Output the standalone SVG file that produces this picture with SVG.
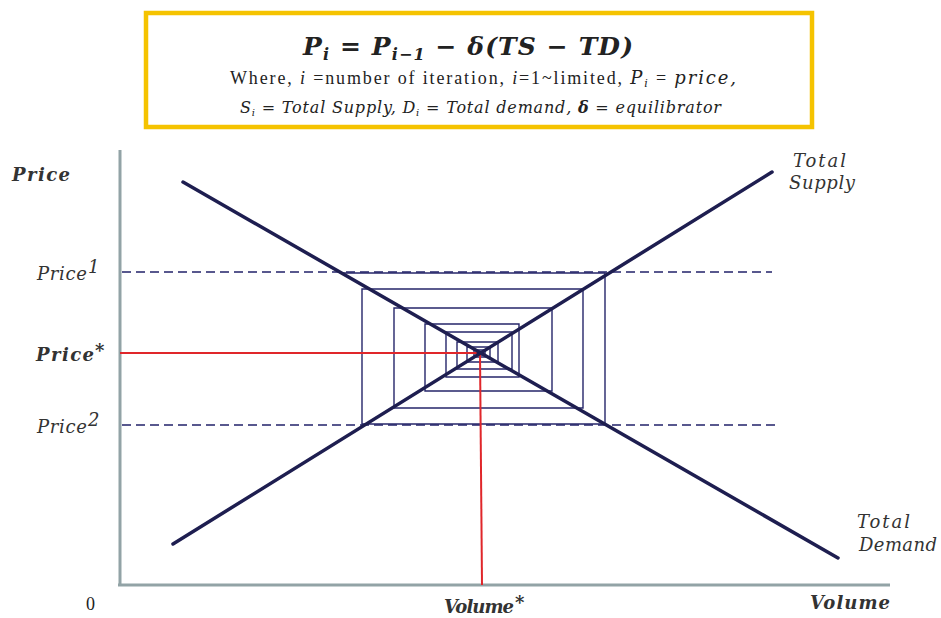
<svg xmlns="http://www.w3.org/2000/svg" width="941" height="618" viewBox="0 0 941 618">
<style>
.math{font-family:"DejaVu Serif","Liberation Serif",serif;font-style:italic;fill:#222}
.b{font-weight:bold}
.rom{font-family:"Liberation Serif","DejaVu Serif",serif;fill:#222}
.axis{stroke:#92a3a6;stroke-width:3;fill:none}
.curve{stroke:#1e1e50;stroke-width:3.5;fill:none;stroke-linecap:round}
.dash{stroke:#22226a;stroke-width:1.4;stroke-dasharray:9 5;fill:none}
.web{stroke:#26266a;stroke-width:1.4;fill:none}
.red{stroke:#e0262a;stroke-width:2;fill:none}
.lbl{font-family:"DejaVu Serif","Liberation Serif",serif;font-style:italic;fill:#333;font-size:18px}
</style>
<rect width="941" height="618" fill="#fff"/>
<g id="formula-box">
<rect x="146" y="13" width="666" height="114" fill="#fff" stroke="#f5c300" stroke-width="4.5"/>
<text class="math b" x="468" y="55" font-size="25" text-anchor="middle" textLength="330">P<tspan font-size="16" dy="5">i</tspan><tspan dy="-5"> = P</tspan><tspan font-size="16" dy="5">i−1</tspan><tspan dy="-5"> − δ(TS − TD)</tspan></text>
<text class="rom" x="230" y="84" font-size="18" textLength="506">Where, <tspan font-style="italic">i</tspan> =number of iteration,  <tspan font-style="italic">i</tspan>=1~limited,  <tspan class="math">P</tspan><tspan class="math" font-size="11" dy="3">i</tspan><tspan dy="-3"> = </tspan><tspan class="math">price,</tspan></text>
<text class="math" x="240" y="113" font-size="16" textLength="481">S<tspan font-size="10" dy="3">i</tspan><tspan dy="-3"> = Total Supply, D</tspan><tspan font-size="10" dy="3">i</tspan><tspan dy="-3"> = Total demand, </tspan><tspan class="b">δ</tspan> = equilibrator</text>
</g>
<g id="axes">
<line class="axis" x1="120" y1="150" x2="120" y2="586"/>
<line class="axis" x1="118" y1="585" x2="890" y2="585"/>
</g>
<g id="price-levels">
<line class="dash" x1="122" y1="272" x2="772" y2="272"/>
<line class="dash" x1="122" y1="425" x2="775" y2="425"/>
</g>
<g id="cobweb">
<path class="web" d="M340,273 H605 V424 H362 V289 H583 V408 H394 V308 H552 V391 H425 V324 H519 V377 H446 V332 H512 V369 H457 V342 H498 V362 H467 V347 H490 V357 H474 V350 H485 V355 H478"/>
</g>
<g id="equilibrium">
<line class="red" x1="120" y1="353" x2="481" y2="353"/>
<line class="red" x1="480" y1="353" x2="482" y2="585"/>
</g>
<g id="total-demand">
<line class="curve" x1="183" y1="182" x2="838" y2="558"/>
</g>
<g id="total-supply">
<line class="curve" x1="173" y1="544" x2="772" y2="172"/>
</g>
<g id="labels">
<text class="lbl b" x="12" y="181" font-size="19" textLength="58">Price</text>
<text class="lbl" x="37" y="280" textLength="50">Price</text><text class="lbl" x="88" y="273" font-size="10">1</text>
<text class="lbl b" x="36" y="361" textLength="58">Price</text><text class="lbl b" x="95" y="357" font-size="8">*</text>
<text class="lbl" x="37" y="433" textLength="50">Price</text><text class="lbl" x="88" y="426" font-size="10">2</text>
<text class="rom" x="86" y="610" font-size="18">0</text>
<text class="lbl b" x="444" y="613" font-size="16" textLength="70">Volume</text><text class="lbl b" x="515" y="609" font-size="8">*</text>
<text class="lbl b" x="810" y="609" font-size="18" textLength="80">Volume</text>
<text class="lbl" x="793" y="167" textLength="53">Total</text>
<text class="lbl" x="789" y="189" textLength="66">Supply</text>
<text class="lbl" x="857" y="528" textLength="53">Total</text>
<text class="lbl" x="859" y="551" textLength="78">Demand</text>
</g>
</svg>
